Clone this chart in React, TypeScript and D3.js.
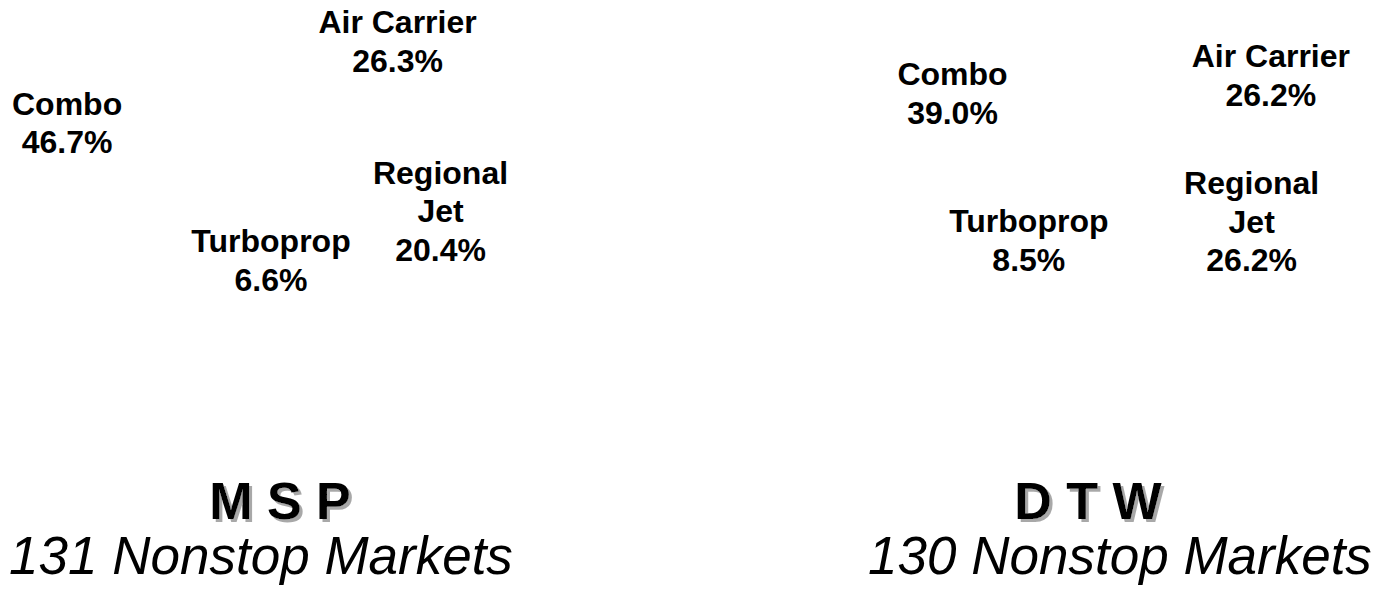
import React from "react";
import * as d3 from "d3";

const categories = ["Air Carrier", "Regional Jet", "Turboprop", "Combo"];
const labelLines = [["Air Carrier"], ["Regional", "Jet"], ["Turboprop"], ["Combo"]];
const mspValues = [26.3, 20.4, 6.6, 46.7];
const dtwValues = [26.2, 26.2, 8.5, 39.0];
const airportCodes = ["M S P", "D T W"];
const marketCounts = [131, 130];

const W = 1380;
const H = 594;
const FONT = "'Liberation Sans', Arial, Helvetica, sans-serif";
const LABEL_SIZE = 32;
const LINE_H = 38.5;

type PieLayout = {
  cx: number; cy: number; rx: number; ry: number; titleX: number; subX: number;
  nudge: [number, number][];
};
const layouts: PieLayout[] = [
  { cx: 268, cy: 131, rx: 202, ry: 128, titleX: 280, subX: 261, nudge: [[-19, -3], [21, -5], [3, 1], [0, 5]] },
  { cx: 1125, cy: 145, rx: 196, ry: 100, titleX: 1088, subX: 1120, nudge: [[2, -2], [5, -2], [-16, 4], [12, -18]] },
];

function PieBlock({ values, layout, code, count }: { values: number[]; layout: PieLayout; code: string; count: number }) {
  const pie = d3.pie<number>().sort(null).startAngle(0).endAngle(2 * Math.PI);
  const arcs = pie(values);
  const arcGen = d3.arc<d3.PieArcDatum<number>>().innerRadius(0).outerRadius(1);
  const fmt = d3.format(".1f");
  return (
    <g>
      <g transform={`translate(${layout.cx},${layout.cy}) scale(${layout.rx * 0.6},${layout.ry * 0.6})`}>
        {arcs.map((a, i) => (
          <path key={i} d={arcGen(a) || ""} fill="#ffffff" stroke="none" />
        ))}
      </g>
      {arcs.map((a, i) => {
        const mid = (a.startAngle + a.endAngle) / 2;
        const x = layout.cx + layout.rx * Math.sin(mid) + layout.nudge[i][0];
        const y = layout.cy - layout.ry * Math.cos(mid) + layout.nudge[i][1];
        const lines = [...labelLines[i], `${fmt(a.data)}%`];
        const n = lines.length;
        const capH = LABEL_SIZE * 0.716;
        const firstBase = y - ((n - 1) * LINE_H) / 2 + capH / 2;
        return (
          <text key={categories[i]} x={x} textAnchor="middle" fontFamily={FONT} fontWeight="bold" fontSize={LABEL_SIZE} fill="#000">
            {lines.map((l, j) => (
              <tspan key={j} x={x} y={firstBase + j * LINE_H}>{l}</tspan>
            ))}
          </text>
        );
      })}
      <text x={layout.titleX} y={519} textAnchor="middle" fontFamily={FONT} fontWeight="bold" fontSize={52} fill="#000" filter="url(#titleShadow)">{code}</text>
      <text x={layout.subX} y={574} textAnchor="middle" fontFamily={FONT} fontStyle="italic" fontSize={53} fill="#000">{`${count} Nonstop Markets`}</text>
    </g>
  );
}

export default function App() {
  return (
    <svg width={W} height={H} style={{ position: "absolute", left: 0, top: 0, background: "#fff" }}>
      <defs>
        <filter id="titleShadow" x="-10%" y="-20%" width="130%" height="150%">
          <feOffset in="SourceAlpha" dx="3" dy="3" result="off" />
          <feFlood floodColor="#a8a8a8" result="col" />
          <feComposite in="col" in2="off" operator="in" result="shadow" />
          <feMerge>
            <feMergeNode in="shadow" />
            <feMergeNode in="SourceGraphic" />
          </feMerge>
        </filter>
      </defs>
      <PieBlock values={mspValues} layout={layouts[0]} code={airportCodes[0]} count={marketCounts[0]} />
      <PieBlock values={dtwValues} layout={layouts[1]} code={airportCodes[1]} count={marketCounts[1]} />
    </svg>
  );
}
